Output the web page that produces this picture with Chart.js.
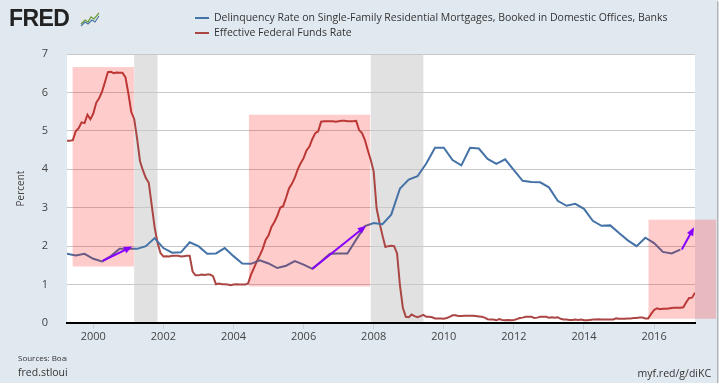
<!DOCTYPE html>
<html>
<head>
<meta charset="utf-8">
<script src="https://cdn.jsdelivr.net/npm/chart.js@4.4.1/dist/chart.umd.min.js"></script>
<style>
  html, body { margin: 0; padding: 0; background: #ffffff; }
  #panel {
    position: relative; width: 717px; height: 383px; overflow: hidden;
    background: #e1e9f0; box-shadow: 1px 1px 2px #8a9098;
    font-family: "Open Sans", sans-serif; color: #333;
  }
  #panel canvas { position: absolute; left: 0; top: 0; }
  .logo { position: absolute; left: 9px; top: 5px; width: 100px; font-family: "Liberation Sans", Arial, sans-serif;
          font-weight: bold; font-size: 23px; letter-spacing: -0.6px; color: #222; }
  .logo svg { position: absolute; left: 71px; top: 6px; }
  .legend { position: absolute; left: 195px; top: 10px; height: 28px; overflow: hidden; font-size: 10.5px; }
  .legend div { height: 15px; line-height: 15px; white-space: nowrap; }
  .legend span.key { display: inline-block; width: 14px; height: 2px; margin-right: 5px; vertical-align: middle; }
  .src { position: absolute; left: 18px; width: 49px; overflow: hidden; white-space: nowrap; }
  .link { position: absolute; right: 6px; top: 366px; font-size: 10.5px; }
</style>
</head>
<body>
<div id="panel">
  <canvas id="chart" width="717" height="383"></canvas>
  <div class="logo">FRED<svg width="20" height="16" viewBox="0 0 20 16">
    <rect x="0" y="0" width="20" height="16" fill="#e4e8ec"/>
    <polyline points="1,13 5,9 8,11 11,6 14,8 19,2" fill="none" stroke="#6a9e3a" stroke-width="1.3"/>
    <polyline points="1,15 5,11 8,13 12,9 15,11 19,5" fill="none" stroke="#4572a7" stroke-width="1.1"/>
  </svg></div>
  <div class="legend">
    <div><span class="key" style="background:#4572a7"></span>Delinquency Rate on Single-Family Residential Mortgages, Booked in Domestic Offices, Banks</div>
    <div><span class="key" style="background:#aa4643"></span>Effective Federal Funds Rate</div>
  </div>
  <div class="src" style="top:352px;font-size:8px;">Sources: Board of Governors</div>
  <div class="src" style="top:365px;font-size:10.5px;">fred.stlouisfed.org</div>
  <div class="link">myf.red/g/diKC</div>
</div>
<script>
// quarterly delinquency rate, first point 1999 Q2
var delinquencyStart = 1999.25;
var delinquencyRate = [
  1.80, 1.76, 1.80,
  1.67, 1.60, 1.74, 1.93,
  1.93, 1.93, 2.00, 2.21,
  1.95, 1.83, 1.84, 2.10,
  2.00, 1.80, 1.81, 1.95,
  1.74, 1.55, 1.54, 1.63,
  1.55, 1.43, 1.49, 1.61,
  1.52, 1.41, 1.60, 1.80,
  1.81, 1.81, 2.17, 2.52,
  2.60, 2.57, 2.82, 3.50,
  3.73, 3.82, 4.15, 4.56,
  4.56, 4.24, 4.10, 4.56,
  4.54, 4.27, 4.14, 4.26,
  3.98, 3.70, 3.67, 3.66,
  3.53, 3.18, 3.05, 3.10,
  2.97, 2.66, 2.53, 2.54,
  2.34, 2.15, 2.00, 2.22,
  2.08, 1.85, 1.81, 1.91
];

// monthly effective fed funds rate, first point April 1999
var fedFundsStart = 1999.25;
var fedFundsRate = [
  4.74, 4.74, 4.76, 4.99, 5.07, 5.22, 5.20, 5.42, 5.30,
  5.45, 5.73, 5.85, 6.02, 6.27, 6.53, 6.54, 6.50, 6.52, 6.51, 6.51, 6.40,
  5.98, 5.49, 5.31, 4.80, 4.21, 3.97, 3.77, 3.65, 3.07, 2.49, 2.09, 1.82,
  1.73, 1.74, 1.73, 1.75, 1.75, 1.75, 1.73, 1.74, 1.75, 1.75, 1.34, 1.24,
  1.24, 1.26, 1.25, 1.26, 1.26, 1.22, 1.01, 1.03, 1.01, 1.01, 1.00, 0.98,
  1.00, 1.01, 1.00, 1.00, 1.00, 1.03, 1.26, 1.43, 1.61, 1.76, 1.93, 2.16,
  2.28, 2.50, 2.63, 2.79, 3.00, 3.04, 3.26, 3.50, 3.62, 3.78, 4.00, 4.16,
  4.29, 4.49, 4.59, 4.79, 4.94, 4.99, 5.24, 5.25, 5.25, 5.25, 5.25, 5.24,
  5.25, 5.26, 5.26, 5.25, 5.25, 5.25, 5.26, 5.02, 4.94, 4.76, 4.49, 4.24,
  3.94, 2.98, 2.61, 2.28, 1.98, 2.00, 2.01, 2.00, 1.81, 0.97, 0.39, 0.16,
  0.15, 0.22, 0.18, 0.15, 0.18, 0.21, 0.16, 0.16, 0.15, 0.12, 0.12, 0.12,
  0.11, 0.13, 0.16, 0.20, 0.20, 0.18, 0.18, 0.19, 0.19, 0.19, 0.19, 0.18,
  0.17, 0.16, 0.14, 0.10, 0.09, 0.09, 0.07, 0.10, 0.08, 0.07, 0.08, 0.07,
  0.08, 0.10, 0.13, 0.14, 0.16, 0.16, 0.16, 0.13, 0.14, 0.16, 0.16, 0.16,
  0.14, 0.15, 0.14, 0.15, 0.11, 0.09, 0.09, 0.08, 0.08, 0.09, 0.08, 0.09,
  0.07, 0.07, 0.08, 0.09, 0.09, 0.10, 0.09, 0.09, 0.09, 0.09, 0.09, 0.12,
  0.11, 0.11, 0.11, 0.12, 0.12, 0.13, 0.13, 0.14, 0.14, 0.12, 0.12, 0.24,
  0.34, 0.38, 0.36, 0.37, 0.37, 0.38, 0.39, 0.40, 0.40, 0.40, 0.41, 0.54,
  0.65, 0.66, 0.79
];

var xTickYears = [2000, 2002, 2004, 2006, 2008, 2010, 2012, 2014, 2016];
var yTicks = [0, 1, 2, 3, 4, 5, 6, 7];

// recessions [from, to] in years
var recessions = [[2001.167, 2001.833], [2007.917, 2009.417]];

// highlight boxes [x0, x1, y0, y1] in data units
var highlightBoxes = [
  [1999.41, 2001.16, 1.47, 6.66],
  [2004.44, 2007.90, 0.95, 5.42],
  [2015.84, 2017.77, 0.11, 2.69]
];

// arrows [x0, y0, x1, y1] in data units
var arrows = [
  [2000.27, 1.62, 2001.11, 1.99],
  [2006.25, 1.41, 2007.78, 2.53],
  [2016.79, 1.91, 2017.14, 2.49]
];

var quarterPoints = delinquencyRate.map(function (v, i) {
  return { x: delinquencyStart + i / 4, y: v };
});
var monthPoints = fedFundsRate.map(function (v, i) {
  return { x: fedFundsStart + i / 12, y: v };
});

var fredPlugin = {
  id: 'fred',
  beforeDraw: function (chart) {
    var ctx = chart.ctx, a = chart.chartArea, xs = chart.scales.x;
    ctx.save();
    ctx.fillStyle = '#ffffff';
    ctx.fillRect(a.left, a.top, a.right - a.left, a.bottom - a.top);
    ctx.fillStyle = '#e1e1e1';
    recessions.forEach(function (r) {
      var x0 = xs.getPixelForValue(r[0]), x1 = xs.getPixelForValue(r[1]);
      ctx.fillRect(x0, a.top, x1 - x0, a.bottom - a.top);
    });
    ctx.restore();
  },
  afterDatasetsDraw: function (chart) {
    var ctx = chart.ctx, xs = chart.scales.x, ys = chart.scales.y;
    ctx.save();
    ctx.fillStyle = 'rgba(255,0,0,0.2)';
    highlightBoxes.forEach(function (b) {
      var x0 = xs.getPixelForValue(b[0]), x1 = xs.getPixelForValue(b[1]);
      var y0 = ys.getPixelForValue(b[2]), y1 = ys.getPixelForValue(b[3]);
      ctx.fillRect(x0, y1, x1 - x0, y0 - y1);
    });
    ctx.strokeStyle = '#8800ff';
    ctx.fillStyle = '#8800ff';
    ctx.lineWidth = 2;
    arrows.forEach(function (ar) {
      var x0 = xs.getPixelForValue(ar[0]), y0 = ys.getPixelForValue(ar[1]);
      var x1 = xs.getPixelForValue(ar[2]), y1 = ys.getPixelForValue(ar[3]);
      var ang = Math.atan2(y1 - y0, x1 - x0), head = 9;
      ctx.beginPath();
      ctx.moveTo(x0, y0);
      ctx.lineTo(x1 - head * 0.6 * Math.cos(ang), y1 - head * 0.6 * Math.sin(ang));
      ctx.stroke();
      ctx.beginPath();
      ctx.moveTo(x1, y1);
      ctx.lineTo(x1 - head * Math.cos(ang - 0.4), y1 - head * Math.sin(ang - 0.4));
      ctx.lineTo(x1 - head * Math.cos(ang + 0.4), y1 - head * Math.sin(ang + 0.4));
      ctx.closePath();
      ctx.fill();
    });
    ctx.restore();
  }
};

var tickFont = { family: '"Open Sans", sans-serif', size: 11 };

new Chart(document.getElementById('chart'), {
  type: 'line',
  data: {
    datasets: [{
      label: 'Delinquency Rate on Single-Family Residential Mortgages, Booked in Domestic Offices, Banks',
      data: quarterPoints,
      borderColor: '#4572a7',
      borderWidth: 2,
      pointRadius: 0,
      tension: 0
    }, {
      label: 'Effective Federal Funds Rate',
      data: monthPoints,
      borderColor: '#aa4643',
      borderWidth: 2,
      pointRadius: 0,
      tension: 0
    }]
  },
  options: {
    responsive: false,
    animation: false,
    layout: { padding: { top: 54, right: 22, bottom: 0, left: 0 } },
    plugins: { legend: { display: false }, tooltip: { enabled: false } },
    scales: {
      x: {
        type: 'linear',
        min: 1999.25,
        max: 2017.167,
        afterBuildTicks: function (s) {
          s.ticks = xTickYears.map(function (v) { return { value: v }; });
        },
        afterFit: function (s) { s.height = 60; },
        ticks: {
          autoSkip: false, maxRotation: 0, padding: 1,
          color: '#444', font: tickFont,
          callback: function (v) { return String(v); }
        },
        grid: { drawOnChartArea: false, drawTicks: true, tickLength: 6, color: '#c4d0dc' },
        border: { color: '#000000', width: 2 }
      },
      y: {
        min: 0,
        max: 7,
        afterBuildTicks: function (s) {
          s.ticks = yTicks.map(function (v) { return { value: v }; });
        },
        afterFit: function (s) { s.width = 67; },
        ticks: { padding: 19, color: '#444', font: tickFont },
        grid: { color: '#c8c8c8', drawTicks: false },
        border: { display: false },
        title: {
          display: true, text: 'Percent', color: '#444',
          font: { family: '"Open Sans", sans-serif', size: 10 },
          padding: { top: 15, bottom: 0 }
        }
      }
    }
  },
  plugins: [fredPlugin]
});
</script>
</body>
</html>
